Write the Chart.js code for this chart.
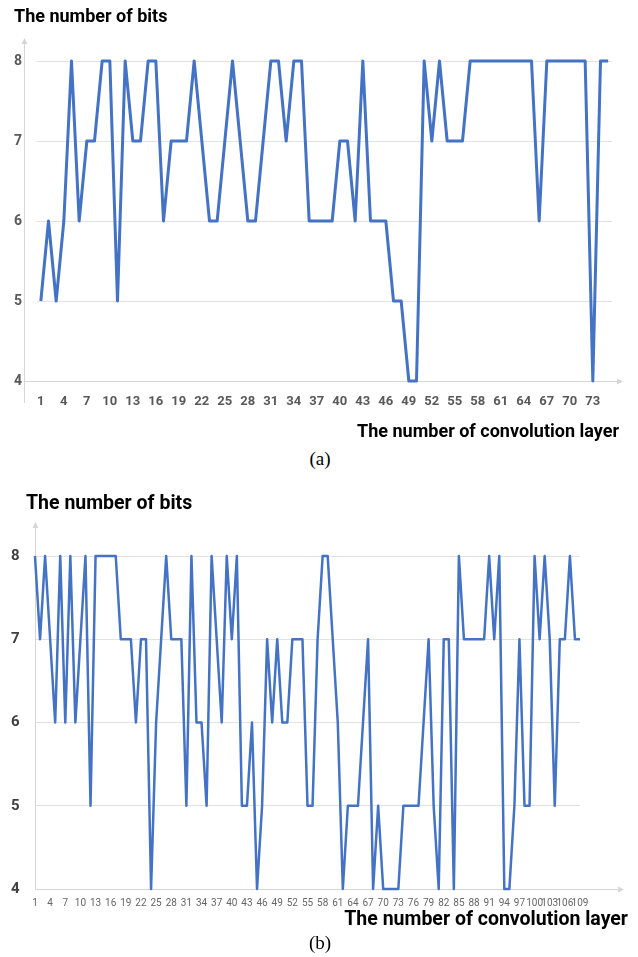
<!DOCTYPE html>
<html><head><meta charset="utf-8">
<script src="https://cdn.jsdelivr.net/npm/chart.js@4.4.1/dist/chart.umd.min.js"></script>
<style>
html,body{margin:0;padding:0;background:#fff;width:638px;height:957px;overflow:hidden;}
#wrapA{position:absolute;left:0;top:0;}
#wrapB{position:absolute;left:0;top:480px;}
.cap{position:absolute;left:0;width:640px;text-align:center;font-family:'Liberation Serif','Times New Roman',serif;font-size:19px;line-height:22px;color:#000;}
</style></head><body>
<div id="wrapA"><canvas id="chartA" width="638" height="447"></canvas></div>
<div class="cap" style="top:448px">(a)</div>
<div id="wrapB"><canvas id="chartB" width="638" height="454"></canvas></div>
<div class="cap" style="top:932px">(b)</div>
<script>
// ---- data ----
const bitsA = [5,6,5,6,8,6,7,7,8,8, 5,8,7,7,8,8,6,7,7,7, 8,7,6,6,7,8,7,6,6,7,
               8,8,7,8,8,6,6,6,6,7, 7,6,8,6,6,6,5,5,4,4, 8,7,8,7,7,7,8,8,8,8,
               8,8,8,8,8,6,8,8,8,8, 8,8,4,8,8];
const bitsB = [8,7,8,7,6,8,6,8,6,7, 8,5,8,8,8,8,8,7,7,7, 6,7,7,4,6,7,8,7,7,7,
               5,8,6,6,5,8,7,6,8,7, 8,5,5,6,4,5,7,6,7,6, 6,7,7,7,5,5,7,8,8,7,
               6,4,5,5,5,6,7,4,5,4, 4,4,4,5,5,5,5,6,7,5, 4,7,7,4,8,7,7,7,7,7,
               8,7,8,4,4,5,7,5,5,8, 7,8,7,5,7,7,8,7,7];
const layersA = bitsA.map((_, i) => String(i + 1));
const layersB = bitsB.map((_, i) => String(i + 1));
const yTicks = [4, 5, 6, 7, 8];
const yTitle = 'The number of bits';
const xTitle = 'The number of convolution layer';
const labelEvery = 3;

const FONT = "Roboto,'Noto Sans',sans-serif";
const LINE = '#4472C4';
const GRID = '#e2e2e2';

const axisArrows = {
  id: 'axisArrows',
  beforeDatasetsDraw(chart, args, o) {
    const ctx = chart.ctx;
    const yb = Math.round(chart.scales.y.getPixelForValue(yTicks[0])) + 0.5;
    const ax = o.axisX + 0.5;
    ctx.save();
    ctx.strokeStyle = o.color; ctx.fillStyle = o.color; ctx.lineWidth = 1;
    ctx.beginPath(); ctx.moveTo(ax, o.yTop + 5); ctx.lineTo(ax, o.yBottom); ctx.stroke();
    ctx.beginPath(); ctx.moveTo(ax, o.yTop); ctx.lineTo(ax - 3, o.yTop + 6); ctx.lineTo(ax + 3, o.yTop + 6); ctx.closePath(); ctx.fill();
    ctx.beginPath(); ctx.moveTo(ax, yb); ctx.lineTo(o.xRight - 5, yb); ctx.stroke();
    ctx.beginPath(); ctx.moveTo(o.xRight, yb); ctx.lineTo(o.xRight - 6, yb - 3); ctx.lineTo(o.xRight - 6, yb + 3); ctx.closePath(); ctx.fill();
    ctx.restore();
  }
};

function makeChart(id, labels, data, cfg) {
  return new Chart(document.getElementById(id), {
    type: 'line',
    data: { labels: labels, datasets: [{
      data: data, borderColor: LINE, borderWidth: cfg.lineWidth, pointRadius: 0,
      tension: 0, fill: false, clip: false, borderJoinStyle: 'round', borderCapStyle: 'butt'
    }]},
    options: {
      responsive: false, animation: false, devicePixelRatio: 1,
      layout: { padding: { left: cfg.padLeft, right: cfg.padRight, top: 0, bottom: 0 } },
      plugins: {
        legend: { display: false }, tooltip: { enabled: false },
        title: { display: true, text: yTitle, align: 'start', color: '#000',
          font: { family: FONT, size: cfg.titleSize, weight: 'bold', lineHeight: cfg.titleLH },
          padding: cfg.titlePad },
        subtitle: { display: true, text: xTitle, position: 'bottom', align: 'end', color: '#000',
          font: { family: FONT, size: cfg.subSize, weight: 'bold', lineHeight: cfg.subLH },
          padding: cfg.subPad },
        axisArrows: cfg.arrows
      },
      scales: {
        x: {
          type: 'category', offset: cfg.offset,
          grid: { display: false, drawTicks: false }, border: { display: false },
          ticks: { autoSkip: false, maxRotation: 0, minRotation: 0, padding: cfg.xTickPad, color: cfg.xTickColor,
            font: { family: FONT, size: cfg.xTickSize, weight: cfg.xTickWeight },
            callback: (v, i) => (i % labelEvery === 0 ? labels[i] : '') },
          afterFit: s => { s.height = cfg.xAxisH; }
        },
        y: {
          type: 'linear', min: yTicks[0], max: yTicks[yTicks.length - 1],
          grid: { color: GRID, lineWidth: 1, drawTicks: false }, border: { display: false },
          ticks: { stepSize: 1, padding: cfg.yTickPad, color: cfg.yTickColor, mirror: cfg.yMirror,
            font: { family: FONT, size: cfg.yTickSize, weight: 'bold' } },
          afterFit: s => { s.width = cfg.yAxisW; }
        },
        yR: {
          type: 'linear', position: 'right', display: true,
          grid: { display: false, drawTicks: false }, border: { display: false },
          ticks: { display: false },
          afterFit: s => { s.width = cfg.rightW; }
        }
      }
    },
    plugins: [axisArrows]
  });
}

makeChart('chartA', layersA, bitsA, {
  lineWidth: 3, padLeft: 14, padRight: 19, rightW: 7, yAxisW: 23,
  titleSize: 18, titleLH: '22px', titlePad: { top: 6, bottom: 33 },
  subSize: 18, subLH: '22px', subPad: { top: 10, bottom: 4 },
  offset: true, xAxisH: 30, xTickPad: 13, xTickSize: 13, xTickWeight: 'bold', xTickColor: '#595959',
  yTickPad: 15, yTickSize: 14, yTickColor: '#595959', yMirror: false,
  arrows: { color: '#d6d6d6', axisX: 24, yTop: 38, yBottom: 403, xRight: 623 }
});

makeChart('chartB', layersB, bitsB, {
  lineWidth: 2.5, padLeft: 26, padRight: 10, rightW: 48, yAxisW: 9,
  titleSize: 19.5, titleLH: '25px', titlePad: { top: 12, bottom: 39 },
  subSize: 19.5, subLH: '24px', subPad: { top: 2, bottom: 2 },
  offset: false, xAxisH: 17, xTickPad: 8, xTickSize: 10, xTickWeight: 'normal', xTickColor: '#666666',
  yTickPad: -24, yTickSize: 15, yTickColor: '#404040', yMirror: true,
  arrows: { color: '#d6d6d6', axisX: 35, yTop: 42, yBottom: 410, xRight: 624 }
});
</script>
</body></html>
